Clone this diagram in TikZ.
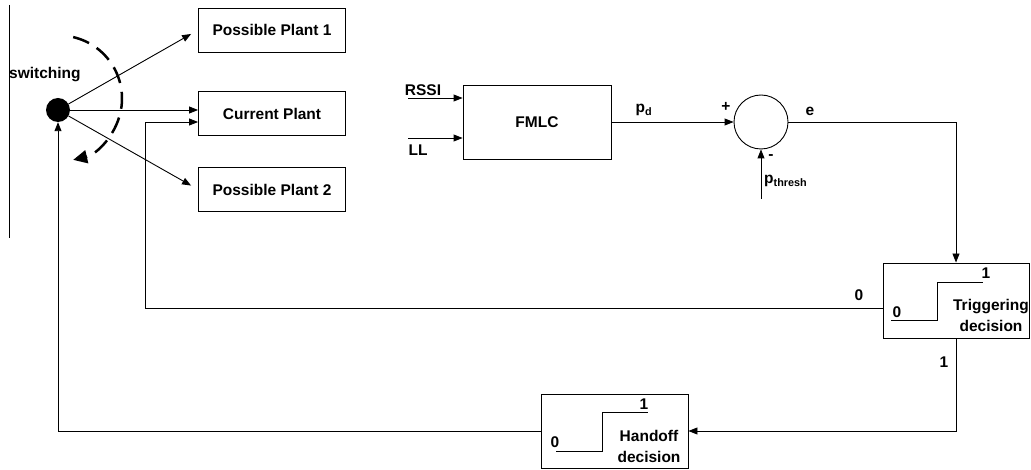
\documentclass[tikz,border=0pt]{standalone}
\usepackage{fontspec}
\setmainfont{Liberation Sans}
\usetikzlibrary{arrows.meta}
\begin{document}
\begin{tikzpicture}[x=1pt,y=-1pt,
  every node/.style={font=\bfseries\fontsize{15.5}{18}\selectfont,inner sep=0pt},
  ln/.style={line width=0.9pt},
  arr/.style={ln,-{Triangle[length=9pt,width=7pt]}},
  box/.style={draw,ln,minimum width=147pt,minimum height=44pt,inner sep=0pt},
  two/.style={align=center,font=\bfseries\fontsize{15.5}{21}\selectfont}]
\useasboundingbox (0,0) rectangle (1031,470);
% switch area
\draw[ln] (9,5) -- (9,238);
\node[anchor=west] (swl) at (9,75) {switching};
\node[circle,fill,minimum size=24pt] (sw) at (58,110) {};
\node[box] (pp1) at (272,30) {Possible Plant 1};
\node[box] (cp) at (272,113.5) {Current Plant};
\node[box] (pp2) at (272,189.5) {Possible Plant 2};
\draw[arr,shorten >=8pt] (sw) -- (pp1.west);
\draw[arr] (sw) -- (sw -| cp.west);
\draw[arr,shorten >=8pt] (sw) -- (pp2.west);
\draw[line width=2.5pt,dash pattern=on 17pt off 9pt,-{Triangle[length=14pt,width=13pt]}]
  (59,98.5) ++(77:63pt) arc[start angle=77,end angle=-77,radius=63pt];
% FMLC
\node[box,minimum width=148pt,minimum height=74pt] (fmlc) at (537,122) {FMLC};
\coordinate (rs) at (408,98);
\coordinate (ll) at (408,138);
\draw[arr] (rs) -- (rs -| fmlc.west);
\draw[arr] (ll) -- (ll -| fmlc.west);
\node (rssil) at (423,90) {RSSI};
\node (lll) at (418,150) {LL};
\node[circle,draw,ln,minimum size=54pt] (sum) at (761,122) {};
\draw[arr] (fmlc.east) -- (sum.west);
\node (pdl) at (644,110) {p\textsubscript{d}};
\node (plus) at (726,107) {+};
\node (minus) at (771,157) {-};
\coordinate (pt) at (761,199);
\draw[arr] (pt) -- (sum.south);
\node[anchor=west] (ptl) at (764,181) {p\textsubscript{thresh}};
\node (el) at (810,111) {e};
% decisions
\node[box,minimum width=146pt,minimum height=75pt] (trig) at (956,300.5) {};
\node[two] (trigt) at (991,315) {Triggering\\decision};
\draw[ln] (891,320) -- (937,320) -- (937,282) -- (983,282);
\node (t0) at (897,312) {0};
\node (t1) at (986,273) {1};
\node[box,minimum width=147pt,minimum height=74pt] (hand) at (614.5,431) {};
\node[two] (handt) at (649,446) {Handoff\\decision};
\draw[ln] (556,451) -- (602,451) -- (602,412) -- (648,412);
\node (h0) at (555,442) {0};
\node (h1) at (644,404) {1};
\draw[arr] (sum.east) -| (trig.north);
\coordinate (fb) at (145,308);
\draw[arr] ([yshift=-7.5pt]trig.west) -- (fb) |- ([yshift=-8.5pt]cp.west);
\node (zl) at (859,295) {0};
\draw[arr] (trig.south) |- (hand.east);
\node (ol) at (944,362) {1};
\draw[arr] (hand.west) -| (sw.south);
\end{tikzpicture}
\end{document}
